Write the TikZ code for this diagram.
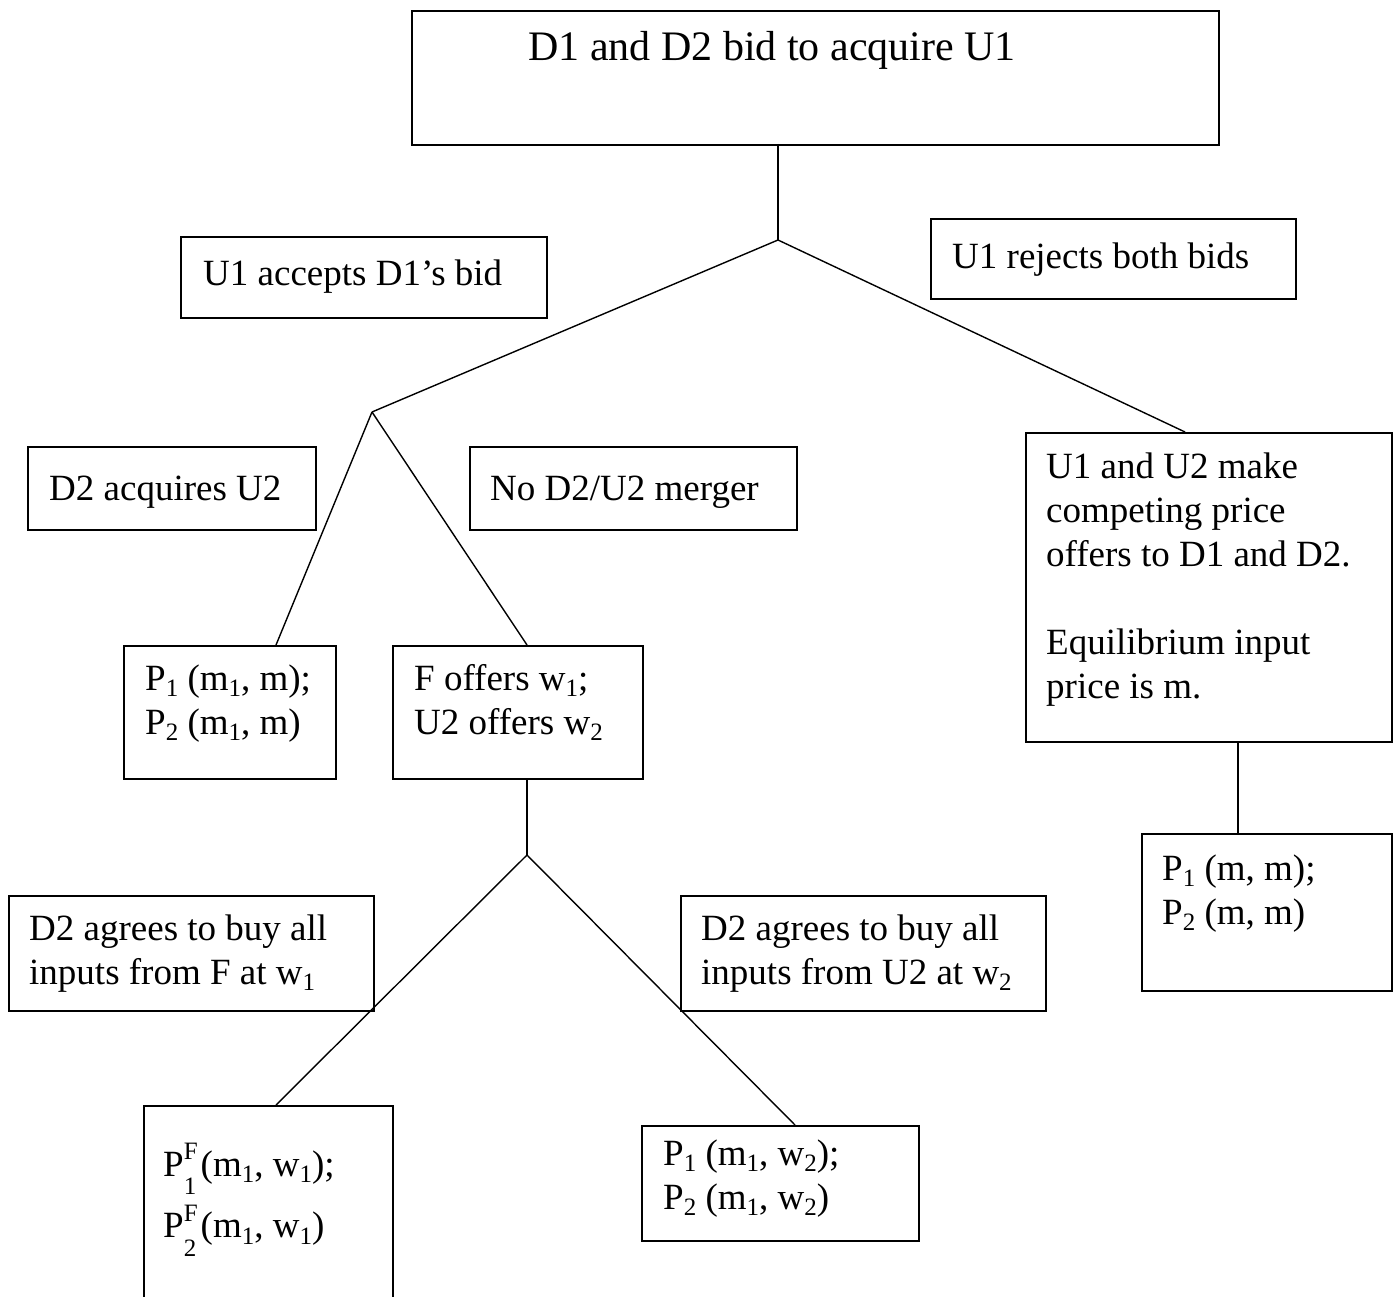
\documentclass[tikz,border=0pt]{standalone}
\usepackage{fontspec}
\setmainfont{Liberation Serif}
\newcommand\lo[1]{\raisebox{-0.18em}{\fontsize{25}{25}\selectfont #1}}
\newcommand\pst[1]{P\makebox[0pt][l]{\raisebox{0.45em}{\fontsize{25}{25}\selectfont F}}\raisebox{-0.5em}{\fontsize{25}{25}\selectfont #1}\hspace{0.12em}}
\tikzset{
  box/.style={draw, line width=1.8pt, anchor=north west, inner sep=0pt},
  txt/.style={anchor=north west, inner sep=0pt, align=left, font=\fontsize{37}{44}\selectfont},
  big/.style={anchor=north west, inner sep=0pt, align=left, font=\fontsize{42}{48}\selectfont},
  conn/.style={line width=1.4pt}
}
\newcommand\bx[5]{\node[box, minimum width=#4pt-#2pt, minimum height=#5pt-#3pt] (#1) at (#2,#3) {};}
\begin{document}
\begin{tikzpicture}[x=1pt,y=-1pt]
\useasboundingbox (0,0) rectangle (1396,1297);
\begin{scope}
\clip (0,0) rectangle (1396,1297);
% boxes
\bx{top}{411}{10}{1218}{144}
\bx{acc}{180}{236}{546}{317}
\bx{rej}{930}{218}{1295}{298}
\bx{u12}{1025}{432}{1391}{741}
\bx{acq}{27}{446}{315}{529}
\bx{nom}{469}{446}{796}{529}
\bx{pm}{123}{645}{335}{778}
\bx{fo}{392}{645}{642}{778}
\bx{agf}{8}{895}{373}{1010}
\bx{agu}{680}{895}{1045}{1010}
\bx{pf}{143}{1105}{392}{1320}
\bx{pw}{641}{1125}{918}{1240}
\bx{pmm}{1141}{833}{1391}{990}
\end{scope}
% texts
\node[big] (ttop) at (528,60-33.6) {\strut D1 and D2 bid to acquire U1};
\node[txt] (tacc) at (203,285-30.8) {\strut U1 accepts D1’s bid};
\node[txt] (trej) at (952,268-30.8) {\strut U1 rejects both bids};
\node[txt] (tacq) at (49,500-30.8) {\strut D2 acquires U2};
\node[txt] (tnom) at (490,500-30.8) {\strut No D2/U2 merger};
\node[txt] (tpm) at (145,690-30.8) {\strut P\lo{1} (m\lo{1}, m);\\\strut P\lo{2} (m\lo{1}, m)};
\node[txt] (tfo) at (414,690-30.8) {\strut F offers w\lo{1};\\\strut U2 offers w\lo{2}};
\node[txt] (tagf) at (29,940-30.8) {\strut D2 agrees to buy all\\\strut inputs from F at w\lo{1}};
\node[txt] (tagu) at (701,940-30.8) {\strut D2 agrees to buy all\\\strut inputs from U2 at w\lo{2}};
\node[txt, font=\fontsize{37}{60}\selectfont] (tpf) at (163,1176-42) {\rule{0pt}{42pt}\pst{1}(m\lo{1}, w\lo{1});\\\rule{0pt}{42pt}\pst{2}(m\lo{1}, w\lo{1})};
\node[txt] (tpw) at (663,1165-30.8) {\strut P\lo{1} (m\lo{1}, w\lo{2});\\\strut P\lo{2} (m\lo{1}, w\lo{2})};
\node[txt] (tu12) at (1046,478-30.8) {\strut U1 and U2 make\\\strut competing price\\\strut offers to D1 and D2.\\[44pt]\strut Equilibrium input\\\strut price is m.};
\node[txt] (tpmm) at (1162,880-30.8) {\strut P\lo{1} (m, m);\\\strut P\lo{2} (m, m)};
% branch points and connector ends
\coordinate (b1) at (778,240);
\coordinate (b2) at (372,412);
\coordinate (b3) at (527,855);
\coordinate (e1) at (1185,432);
\coordinate (e2) at (276,645);
\coordinate (e3) at (527,645);
\coordinate (e4) at (527,778);
\coordinate (e5) at (276,1105);
\coordinate (e6) at (795,1125);
\coordinate (e7) at (1238,741);
\coordinate (e8) at (1238,833);
\coordinate (e0) at (778,144);
\draw[conn] (e0) -- (b1);
\draw[conn] (b1) -- (b2);
\draw[conn] (b1) -- (e1);
\draw[conn] (b2) -- (e2);
\draw[conn] (b2) -- (e3);
\draw[conn] (e4) -- (b3);
\draw[conn] (b3) -- (e5);
\draw[conn] (b3) -- (e6);
\draw[conn] (e7) -- (e8);
\end{tikzpicture}
\end{document}
